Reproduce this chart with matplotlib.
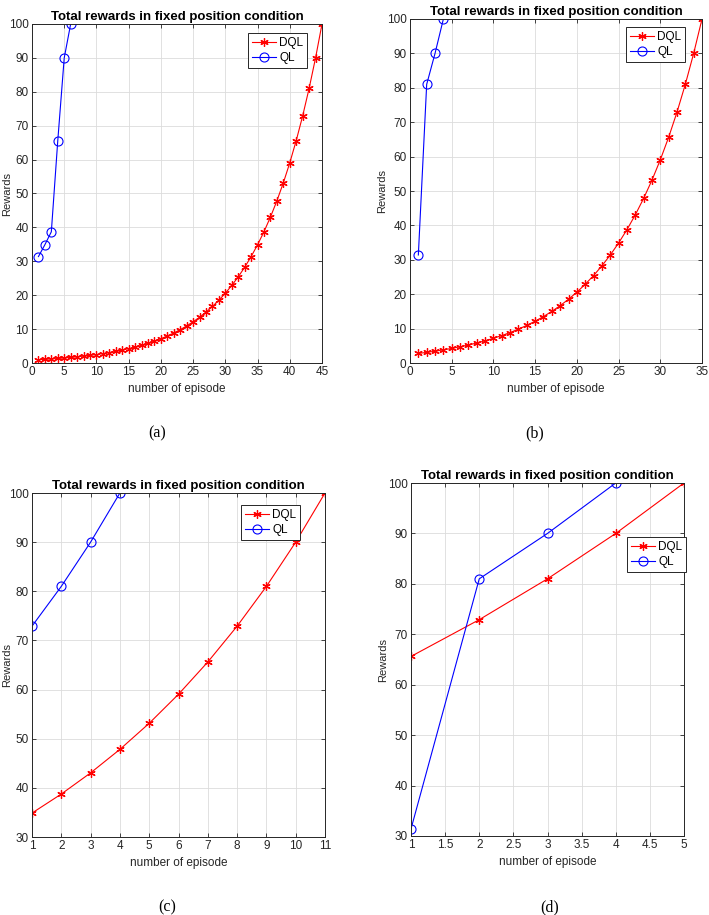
import matplotlib
matplotlib.use("Agg")
import matplotlib.pyplot as plt

# ---------------- data ----------------
a_dql = [0.97, 1.08, 1.20, 1.33, 1.48, 1.64, 1.82, 2.03, 2.25, 2.50,
         2.78, 3.09, 3.43, 3.82, 4.24, 4.71, 5.23, 5.81, 6.46, 7.18,
         7.98, 8.86, 9.85, 10.94, 12.16, 13.51, 15.01, 16.68, 18.53, 20.59,
         22.88, 25.42, 28.24, 31.38, 34.87, 38.74, 43.05, 47.83, 53.14, 59.05,
         65.61, 72.9, 81.0, 90.0, 100.0]
a_ql = [31.4, 34.9, 38.7, 65.6, 90.0, 100.0]

b_dql = [2.78, 3.09, 3.43, 3.82, 4.24, 4.71, 5.23, 5.81, 6.46, 7.18,
         7.98, 8.86, 9.85, 10.94, 12.16, 13.51, 15.01, 16.68, 18.53, 20.59,
         22.88, 25.42, 28.24, 31.38, 34.87, 38.74, 43.05, 47.83, 53.14, 59.05,
         65.61, 72.9, 81.0, 90.0, 100.0]
b_ql = [31.4, 81.0, 90.0, 100.0]

c_dql = [34.87, 38.74, 43.05, 47.83, 53.14, 59.05, 65.61, 72.9, 81.0, 90.0, 100.0]
c_ql = [72.9, 81.0, 90.0, 100.0]

d_dql = [65.61, 72.9, 81.0, 90.0, 100.0]
d_ql = [31.4, 81.0, 90.0, 100.0]

panel_labels = ["(a)", "(b)", "(c)", "(d)"]
title_text = "Total rewards in fixed position condition"
xlabel_text = "number of episode"
ylabel_text = "Rewards"
legend_labels = ["DQL", "QL"]

# ---------------- fonts ----------------
sans = ["Liberation Sans", "DejaVu Sans"]
serif = ["Liberation Serif", "DejaVu Serif"]

fig = plt.figure(figsize=(7.09, 9.15), dpi=100)
W, H = 709, 915

def ax_rect(l, t, r, b):
    return [l / W, (H - b) / H, (r - l) / W, (b - t) / H]

panels = [
    dict(rect=(32, 24, 322, 363), dql=a_dql, ql=a_ql, xlim=(0, 45), xticks=list(range(0, 46, 5)),
         ylim=(0, 100), yticks=list(range(0, 101, 10)), leg=(0.745, 0.973),
         lab=(157, 433), ylab_x=7),
    dict(rect=(410, 19, 702, 363), dql=b_dql, ql=b_ql, xlim=(0, 35), xticks=list(range(0, 36, 5)),
         ylim=(0, 100), yticks=list(range(0, 101, 10)), leg=(0.740, 0.977),
         lab=(535, 433), ylab_x=382),
    dict(rect=(32, 493, 325, 837), dql=c_dql, ql=c_ql, xlim=(1, 11), xticks=list(range(1, 12)),
         ylim=(30, 100), yticks=list(range(30, 101, 10)), leg=(0.713, 0.965),
         lab=(167, 907), ylab_x=7),
    dict(rect=(411, 483, 684, 836), dql=d_dql, ql=d_ql, xlim=(1, 5),
         xticks=[1, 1.5, 2, 2.5, 3, 3.5, 4, 4.5, 5],
         ylim=(30, 100), yticks=list(range(30, 101, 10)), leg=(0.791, 0.847),
         lab=(550, 907), ylab_x=383),
]

spine_col = "#262626"
for i, p in enumerate(panels):
    ax = fig.add_axes(ax_rect(*p["rect"]))
    xd = list(range(1, len(p["dql"]) + 1))
    xq = list(range(1, len(p["ql"]) + 1))
    ax.plot(xd, p["dql"], color="#ff0000", lw=0.8, marker=(6, 2, 0), ms=6,
            markeredgewidth=0.9, label=legend_labels[0])
    ax.plot(xq, p["ql"], color="#0000ff", lw=0.8, marker="o", ms=6.5,
            markerfacecolor="none", markeredgewidth=0.8, label=legend_labels[1])
    ax.set_xlim(*p["xlim"])
    ax.set_ylim(*p["ylim"])
    ax.set_xticks(p["xticks"])
    ax.set_yticks(p["yticks"])
    ax.set_xticklabels([("%g" % v) for v in p["xticks"]], family=sans, fontsize=8.5)
    ax.set_yticklabels([("%g" % v) for v in p["yticks"]], family=sans, fontsize=8.5)
    ax.grid(True, color="#dcdcdc", lw=0.6)
    ax.set_axisbelow(True)
    ax.tick_params(direction="in", top=True, right=True, length=3, width=0.6,
                   colors=spine_col, pad=2.5)
    for s in ax.spines.values():
        s.set_color(spine_col)
        s.set_linewidth(0.7)
    ax.set_title(title_text, family=sans, fontsize=9.5, fontweight="bold", pad=3)
    ax.set_xlabel(xlabel_text, family=sans, fontsize=8.5, labelpad=3, color="#262626")
    fig.text(p["ylab_x"] / W, 1 - ((p["rect"][1] + p["rect"][3]) / 2) / H, ylabel_text,
             rotation=90, ha="center", va="center", family=sans, fontsize=8, color="#262626")
    leg = ax.legend(loc="upper left", bbox_to_anchor=p["leg"], fancybox=False,
                    framealpha=1, edgecolor="#262626", prop={"family": sans, "size": 8.5},
                    handlelength=2.0, handletextpad=0.3, borderpad=0.35,
                    labelspacing=0.25, borderaxespad=0)
    leg.get_frame().set_linewidth(0.7)
    fig.text(p["lab"][0] / W, 1 - p["lab"][1] / H, panel_labels[i], ha="center",
             va="center", family=serif, fontsize=11.5)

fig.savefig("out.png", dpi=100)
